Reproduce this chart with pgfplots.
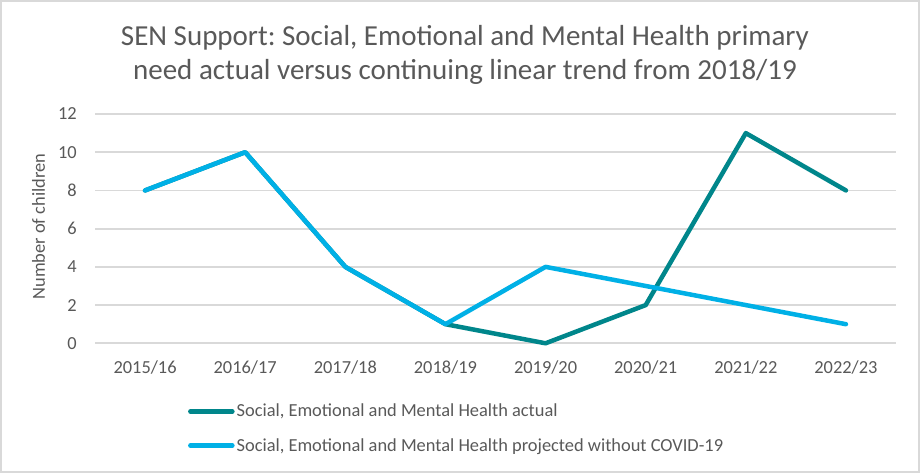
\documentclass[border=0pt]{standalone}
\usepackage{fontspec}
\setmainfont{Carlito}
\usepackage{pgfplots}
\pgfplotsset{compat=1.18}
\frenchspacing

\definecolor{tealline}{RGB}{0,134,139}
\definecolor{blueline}{RGB}{0,176,230}
\definecolor{gridgray}{RGB}{217,217,217}
\definecolor{textgray}{RGB}{89,89,89}

\begin{document}
\begin{tikzpicture}[x=1pt,y=1pt]
% chart area with its thin frame
\fill[white] (0,0) rectangle (920,473);
\draw[gridgray, line width=2pt] (1,1) rectangle (919,472);

% two-line title
\node[anchor=base, text=textgray, inner sep=0pt, font=\fontsize{29}{34}\selectfont]
  at (465,427.3) {SEN Support: Social, Emotional and Mental Health primary};
\node[anchor=base, text=textgray, inner sep=0pt, font=\fontsize{29}{34}\selectfont]
  at (465,393) {need actual versus continuing linear trend from 2018/19};

\begin{axis}[
  at={(95pt,129.7pt)}, anchor=south west,
  scale only axis, width=801pt, height=229.3pt,
  xmin=-0.5, xmax=7.5, ymin=0, ymax=12,
  xtick={0,...,7},
  xticklabels={2015/16,2016/17,2017/18,2018/19,2019/20,2020/21,2021/22,2022/23},
  ytick={0,2,...,12},
  axis line style={draw=none},
  major tick length=0pt,
  ymajorgrids, grid style={gridgray, line width=1.8pt},
  clip=false,
  /pgf/number format/assume math mode=true,
  tick label style={text=textgray, font=\fontsize{18.4}{22}\selectfont, inner sep=0pt},
  xticklabel style={anchor=base, yshift=-30.7pt},
  yticklabel style={anchor=east, xshift=-18pt},
  every axis y label/.style={at={(axis description cs:0,0.509)}, xshift=-50pt,
    rotate=90, anchor=base, text=textgray, font=\fontsize{18.4}{22}\selectfont, inner sep=0pt},
  ylabel={Number of children},
  legend style={at={(axis description cs:0.116,-0.256)}, anchor=north west,
    draw=none, fill=none, inner sep=0pt, row sep=16pt,
    font=\fontsize{18.4}{22}\selectfont, text=textgray,
    nodes={inner sep=2pt}},
  legend cell align=left,
  legend image code/.code={\draw[#1] (0pt,0pt) -- (42pt,0pt);},
]
\addplot[tealline, line width=4.5pt, line join=round, line cap=round]
  coordinates {(0,8) (1,10) (2,4) (3,1) (4,0) (5,2) (6,11) (7,8)};
\addlegendentry{Social, Emotional and Mental Health actual}
\addplot[blueline, line width=4.5pt, line join=round, line cap=round]
  coordinates {(0,8) (1,10) (2,4) (3,1) (4,4) (5,3) (6,2) (7,1)};
\addlegendentry{Social, Emotional and Mental Health projected without COVID-19}
\end{axis}
\end{tikzpicture}
\end{document}
